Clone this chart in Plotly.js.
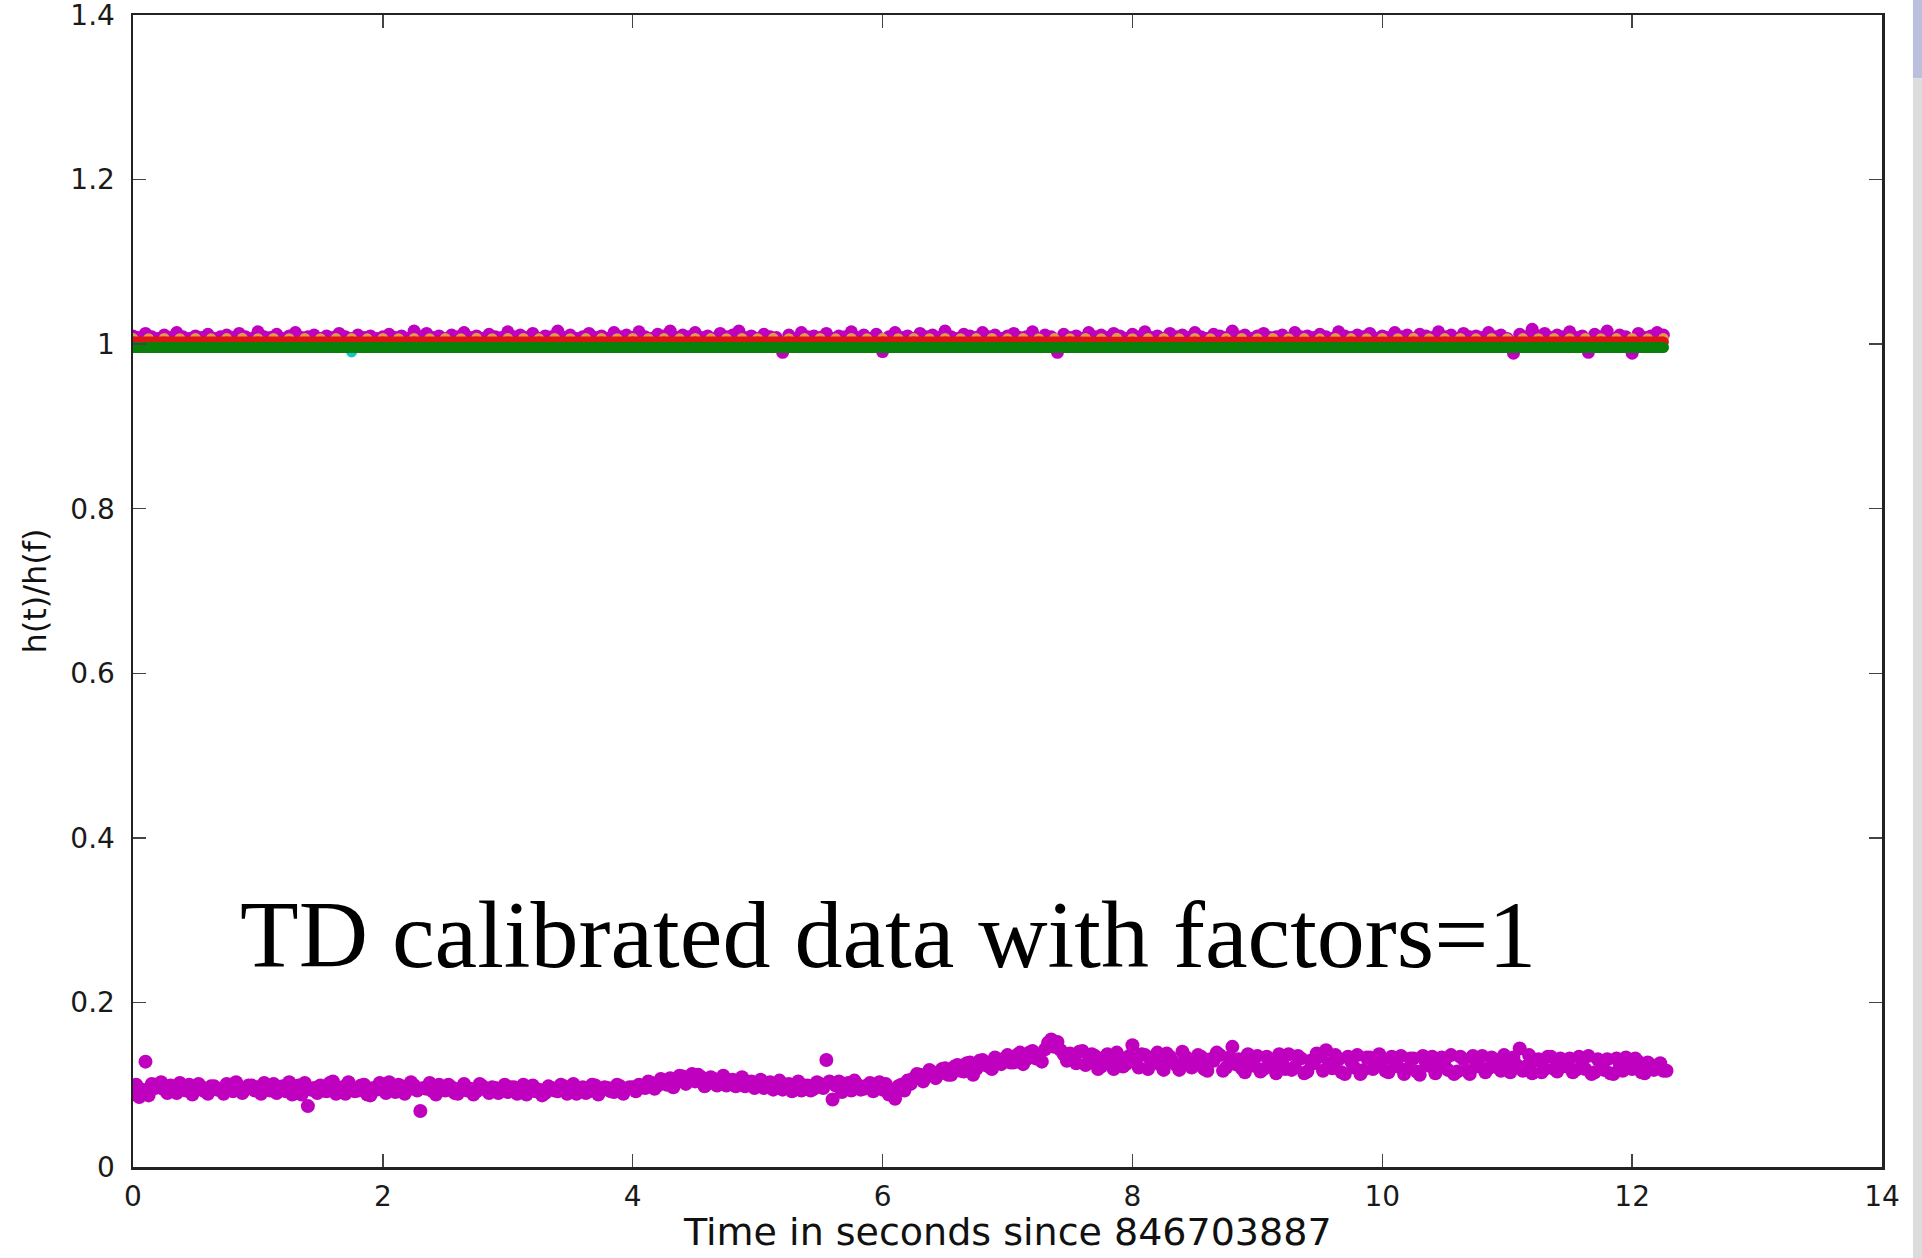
<!DOCTYPE html>
<html>
<head>
<meta charset="utf-8">
<script src="https://cdn.plot.ly/plotly-3.0.1.min.js"></script>
<style>
  html, body { margin: 0; padding: 0; background: #ffffff; }
  #chart { width: 1922px; height: 1258px; }
</style>
</head>
<body>
<div id="chart"></div>
<script>
// Time axis: samples start at t0 s, spacing given per series (seconds since 846703887)
var lowStart = 0, lowStep = 0.05;      // lower magenta series (first sample set)
var lowStart2 = 0.025;                 // lower magenta series (second, interleaved sample set)
var topStep = 0.05;                    // upper magenta series
var orangeStep = 0.125;
var lineStep = 0.25;                   // red, green, cyan

// Lower magenta series h(t)/h(f)
var magentaLow = [
0.092,0.085,0.128,0.101,0.097,0.094,0.099,0.090,0.096,0.100,
0.093,0.097,0.089,0.098,0.095,0.101,0.092,0.096,0.094,0.099,
0.097,0.102,0.093,0.090,0.098,0.103,0.095,0.088,0.074,0.096,
0.099,0.092,0.104,0.095,0.089,0.097,0.093,0.100,0.087,0.094,
0.096,0.103,0.091,0.098,0.094,0.099,0.068,0.095,0.092,0.100,
0.093,0.097,0.089,0.101,0.095,0.092,0.098,0.090,0.096,0.094,
0.091,0.097,0.093,0.088,0.099,0.094,0.090,0.096,0.092,0.098,
0.094,0.089,0.097,0.092,0.099,0.093,0.096,0.091,0.098,0.095,
0.097,0.100,0.096,0.102,0.099,0.105,0.108,0.103,0.110,0.106,
0.104,0.109,0.101,0.107,0.103,0.099,0.106,0.102,0.098,0.104,
0.100,0.096,0.103,0.098,0.094,0.101,0.097,0.093,0.099,0.095,
0.101,0.130,0.082,0.104,0.097,0.093,0.100,0.095,0.102,0.098,
0.094,0.088,0.083,0.100,0.105,0.108,0.112,0.110,0.115,0.113,
0.120,0.112,0.124,0.116,0.127,0.119,0.130,0.122,0.133,0.125,
0.136,0.127,0.139,0.131,0.141,0.134,0.143,0.155,0.152,0.137,
0.138,0.126,0.141,0.129,0.135,0.122,0.137,0.119,0.133,0.125,
0.148,0.121,0.136,0.127,0.139,0.118,0.134,0.124,0.140,0.128,
0.124,0.134,0.117,0.129,0.136,0.121,0.146,0.131,0.115,0.128,
0.135,0.119,0.130,0.114,0.127,0.137,0.122,0.132,0.116,0.126,
0.134,0.142,0.120,0.131,0.113,0.128,0.136,0.118,0.133,0.124,
0.130,0.115,0.127,0.135,0.119,0.132,0.112,0.126,0.134,0.121,
0.129,0.136,0.116,0.131,0.113,0.127,0.135,0.120,0.130,0.117,
0.128,0.133,0.144,0.122,0.114,0.131,0.119,0.134,0.116,0.126,
0.132,0.118,0.129,0.135,0.115,0.127,0.131,0.113,0.125,0.133,
0.119,0.128,0.114,0.124,0.121,0.117
];

// Lower magenta series, interleaved samples
var magentaLow2 = [
0.100,0.094,0.087,0.096,0.103,0.090,0.095,0.102,0.093,0.088,
0.101,0.092,0.098,0.094,0.089,0.097,0.103,0.090,0.099,0.093,
0.089,0.096,0.101,0.097,0.092,0.088,0.099,0.102,0.094,0.090,
0.093,0.102,0.089,0.097,0.103,0.092,0.099,0.088,0.096,0.102,
0.090,0.094,0.100,0.089,0.103,0.093,0.096,0.102,0.088,0.095,
0.100,0.090,0.096,0.093,0.088,0.101,0.094,0.097,0.090,0.100,
0.097,0.089,0.100,0.095,0.092,0.087,0.098,0.093,0.100,0.089,
0.101,0.095,0.090,0.100,0.088,0.097,0.092,0.100,0.089,0.097,
0.092,0.097,0.104,0.095,0.107,0.100,0.097,0.111,0.101,0.113,
0.112,0.098,0.109,0.099,0.111,0.105,0.098,0.109,0.103,0.096,
0.106,0.101,0.094,0.105,0.100,0.092,0.104,0.099,0.093,0.103,
0.096,0.104,0.099,0.091,0.102,0.105,0.094,0.099,0.092,0.103,
0.101,0.094,0.098,0.093,0.101,0.113,0.104,0.118,0.108,0.119,
0.112,0.122,0.117,0.126,0.112,0.129,0.124,0.119,0.128,0.132,
0.127,0.136,0.125,0.139,0.132,0.128,0.151,0.146,0.142,0.129,
0.131,0.140,0.124,0.137,0.119,0.133,0.127,0.139,0.122,0.135,
0.129,0.137,0.119,0.134,0.124,0.138,0.128,0.118,0.134,0.121,
0.136,0.119,0.131,0.139,0.117,0.133,0.125,0.120,0.137,0.123,
0.116,0.134,0.124,0.137,0.119,0.118,0.135,0.114,0.129,0.138,
0.117,0.126,0.136,0.115,0.134,0.121,0.113,0.133,0.119,0.137,
0.117,0.134,0.122,0.113,0.132,0.116,0.135,0.123,0.114,0.133,
0.118,0.113,0.134,0.117,0.135,0.122,0.115,0.133,0.121,0.136,
0.115,0.124,0.117,0.136,0.129,0.115,0.134,0.119,0.132,0.122,
0.115,0.134,0.119,0.113,0.131,0.118,0.114,0.132,0.117,0.121,
0.132,0.115,0.127,0.118,0.126,0.117
];

// Upper magenta series (near 1)
var magentaTop = [
1.010,1.008,1.013,1.009,1.007,1.011,1.008,1.014,1.009,1.007,
1.010,1.008,1.012,1.007,1.009,1.011,1.008,1.013,1.009,1.007,
1.015,1.009,1.008,1.012,1.007,1.010,1.014,1.008,1.009,1.011,
1.007,1.010,1.008,1.013,1.009,1.007,1.011,1.008,1.010,1.007,
1.009,1.012,1.008,1.010,1.007,1.016,1.009,1.013,1.008,1.010,
1.007,1.011,1.009,1.014,1.008,1.010,1.007,1.012,1.009,1.008,
1.015,1.009,1.011,1.008,1.013,1.007,1.010,1.009,1.016,1.008,
1.011,1.007,1.009,1.013,1.008,1.010,1.007,1.014,1.009,1.011,
1.008,1.015,1.009,1.007,1.012,1.010,1.016,1.008,1.011,1.009,
1.014,1.008,1.010,1.007,1.013,1.009,1.011,1.016,1.008,1.010,
1.007,1.012,1.009,1.008,0.990,1.011,1.007,1.014,1.009,1.010,
1.008,1.013,1.007,1.010,1.009,1.015,1.008,1.011,1.007,1.012,
0.991,1.009,1.014,1.008,1.010,1.007,1.013,1.009,1.011,1.008,
1.016,1.009,1.007,1.012,1.010,1.008,1.014,1.009,1.011,1.007,
1.010,1.013,1.008,1.009,1.015,1.007,1.011,1.009,0.990,1.012,
1.008,1.010,1.007,1.014,1.009,1.011,1.008,1.013,1.010,1.007,
1.012,1.009,1.015,1.008,1.010,1.007,1.013,1.009,1.011,1.008,
1.014,1.009,1.007,1.012,1.010,1.008,1.016,1.009,1.011,1.007,
1.010,1.013,1.008,1.009,1.011,1.007,1.014,1.009,1.010,1.008,
1.012,1.009,1.007,1.015,1.010,1.008,1.011,1.009,1.013,1.007,
1.010,1.008,1.014,1.009,1.011,1.007,1.012,1.010,1.008,1.015,
1.009,1.011,1.007,1.013,1.009,1.010,1.008,1.014,1.009,1.011,
1.007,0.989,1.012,1.009,1.018,1.010,1.013,1.008,1.011,1.009,
1.015,1.008,1.010,0.990,1.012,1.009,1.016,1.007,1.011,1.009,
0.989,1.013,1.008,1.010,1.014,1.011
];

// Orange series (near 1)
var orangeVals = [
1.0068,1.0066,1.0070,1.0067,1.0069,1.0065,1.0068,1.0071,1.0066,1.0069,
1.0067,1.0070,1.0066,1.0068,1.0069,1.0065,1.0070,1.0067,1.0068,1.0066,
1.0069,1.0067,1.0071,1.0066,1.0068,1.0070,1.0065,1.0069,1.0067,1.0068,
1.0070,1.0066,1.0069,1.0067,1.0068,1.0065,1.0070,1.0068,1.0066,1.0069,
1.0067,1.0071,1.0066,1.0068,1.0069,1.0065,1.0070,1.0067,1.0068,1.0066,
1.0069,1.0067,1.0070,1.0066,1.0068,1.0069,1.0065,1.0070,1.0067,1.0068,
1.0066,1.0069,1.0067,1.0071,1.0066,1.0068,1.0070,1.0065,1.0069,1.0067,
1.0068,1.0070,1.0066,1.0069,1.0067,1.0068,1.0065,1.0070,1.0068,1.0066,
1.0069,1.0067,1.0071,1.0066,1.0068,1.0069,1.0065,1.0070,1.0067,1.0068,
1.0066,1.0069,1.0067,1.0070,1.0066,1.0068,1.0069,1.0067,1.0068
];

// Red, green, cyan series (near 1)
var redVals = [
1.0025,1.0026,1.0024,1.0025,1.0026,1.0025,1.0024,1.0025,1.0026,1.0025,
1.0024,1.0025,1.0026,1.0025,1.0024,1.0025,1.0026,1.0025,1.0025,1.0024,
1.0025,1.0026,1.0025,1.0024,1.0025,1.0026,1.0025,1.0024,1.0025,1.0026,
1.0025,1.0024,1.0025,1.0026,1.0025,1.0025,1.0024,1.0025,1.0026,1.0025,
1.0024,1.0025,1.0026,1.0025,1.0024,1.0025,1.0026,1.0025,1.0024,1.0025
];
var greenVals = [
0.9959,0.9960,0.9958,0.9959,0.9960,0.9959,0.9958,0.9959,0.9960,0.9959,
0.9958,0.9959,0.9960,0.9959,0.9958,0.9959,0.9960,0.9959,0.9959,0.9958,
0.9959,0.9960,0.9959,0.9958,0.9959,0.9960,0.9959,0.9958,0.9959,0.9960,
0.9959,0.9958,0.9959,0.9960,0.9959,0.9959,0.9958,0.9959,0.9960,0.9959,
0.9958,0.9959,0.9960,0.9959,0.9958,0.9959,0.9960,0.9959,0.9958,0.9959
];
var cyanVals = [
0.9965,0.9966,0.9964,0.9965,0.9966,0.9965,0.9964,0.9905,0.9965,0.9966,
0.9965,0.9964,0.9965,0.9966,0.9965,0.9964,0.9965,0.9966,0.9965,0.9964,
0.9965,0.9966,0.9965,0.9964,0.9965,0.9966,0.9965,0.9964,0.9965,0.9966,
0.9965,0.9964,0.9965,0.9966,0.9965,0.9964,0.9965,0.9966,0.9965,0.9964,
0.9965,0.9966,0.9965,0.9964,0.9965,0.9966,0.9965,0.9964,0.9965,0.9966
];

var xTickVals = [0, 2, 4, 6, 8, 10, 12, 14];
var yTickVals = [0, 0.2, 0.4, 0.6, 0.8, 1, 1.2, 1.4];
var yTickText = ['0', '0.2', '0.4', '0.6', '0.8', '1', '1.2', '1.4'];
var xTitle = 'Time in seconds since 846703887';
var yTitle = 'h(t)/h(f)';
var noteText = 'TD calibrated data with factors=1';

var MAG = '#bf00bf';
var MSL = 14;   // lower magenta marker size
var MSM = 13;   // upper magenta marker size
var MS = 11;

var traces = [
  { type: 'scatter', mode: 'markers', x0: lowStart, dx: lowStep, y: magentaLow,
    marker: { color: MAG, size: MSL }, hoverinfo: 'skip' },
  { type: 'scatter', mode: 'markers', x0: lowStart2, dx: lowStep, y: magentaLow2,
    marker: { color: MAG, size: MSL }, hoverinfo: 'skip' },
  { type: 'scatter', mode: 'markers', x0: lowStart, dx: topStep, y: magentaTop,
    marker: { color: MAG, size: MSM }, hoverinfo: 'skip' },
  { type: 'scatter', mode: 'markers', x0: lowStart, dx: lineStep, y: cyanVals,
    marker: { color: '#19c4c4', size: MS }, hoverinfo: 'skip' },
  { type: 'scatter', mode: 'markers', x0: lowStart, dx: orangeStep, y: orangeVals,
    marker: { color: '#e39a45', size: MS }, hoverinfo: 'skip' },
  { type: 'scatter', mode: 'lines+markers', x0: lowStart, dx: lineStep, y: redVals,
    line: { color: '#dd1515', width: MS }, marker: { color: '#dd1515', size: MS }, hoverinfo: 'skip' },
  { type: 'scatter', mode: 'lines+markers', x0: lowStart, dx: lineStep, y: greenVals,
    line: { color: '#0a800a', width: MS }, marker: { color: '#0a800a', size: MS }, hoverinfo: 'skip' }
];

var tickFont = { family: 'DejaVu Sans, Arial, sans-serif', size: 28, color: '#1a1a1a' };

var layout = {
  width: 1922, height: 1258,
  paper_bgcolor: '#ffffff', plot_bgcolor: '#ffffff',
  showlegend: false,
  margin: { l: 133, r: 40, t: 15, b: 91, pad: 0 },
  xaxis: {
    range: [0, 14], tickvals: xTickVals, ticktext: xTickVals.map(String),
    ticks: 'inside', ticklen: 13, tickwidth: 1.5, tickcolor: '#444',
    showline: true, linecolor: '#222', linewidth: 2.5, mirror: 'ticks',
    showgrid: false, zeroline: false,
    tickfont: tickFont, ticklabelstandoff: 3, ticklabeloverflow: 'allow',
    automargin: false
  },
  yaxis: {
    range: [0, 1.4], tickvals: yTickVals, ticktext: yTickText,
    ticks: 'inside', ticklen: 13, tickwidth: 1.5, tickcolor: '#444',
    showline: true, linecolor: '#222', linewidth: 2.5, mirror: 'ticks',
    showgrid: false, zeroline: false,
    tickfont: tickFont, ticklabelstandoff: 10, ticklabeloverflow: 'allow',
    title: { text: yTitle, font: { family: 'DejaVu Sans, Arial, sans-serif', size: 32, color: '#111' }, standoff: 14 },
    automargin: false
  },
  annotations: [
    {
      x: 6.04, y: 0.283, xref: 'x', yref: 'y', text: noteText, showarrow: false,
      xanchor: 'center', yanchor: 'middle',
      font: { family: 'Liberation Serif, Times New Roman, serif', size: 96, color: '#000' }
    },
    {
      // x-axis title, placed just below the tick labels as in the original
      x: 0.5, y: -0.0566, xref: 'paper', yref: 'paper', text: xTitle, showarrow: false,
      xanchor: 'center', yanchor: 'middle', borderpad: 0,
      font: { family: 'DejaVu Sans, Arial, sans-serif', size: 38, color: '#111' }
    }
  ],
  shapes: [
    { type: 'rect', xref: 'paper', yref: 'paper', x0: 1.0177, x1: 1.03, y0: 0.945, y1: 1.02,
      fillcolor: '#b9bfdd', line: { width: 0 }, layer: 'below' },
    { type: 'rect', xref: 'paper', yref: 'paper', x0: 1.0177, x1: 1.03, y0: -0.09, y1: 0.945,
      fillcolor: '#dcdcdc', line: { width: 0 }, layer: 'below' }
  ]
};

Plotly.newPlot('chart', traces, layout, { staticPlot: true, displayModeBar: false });
</script>
</body>
</html>
